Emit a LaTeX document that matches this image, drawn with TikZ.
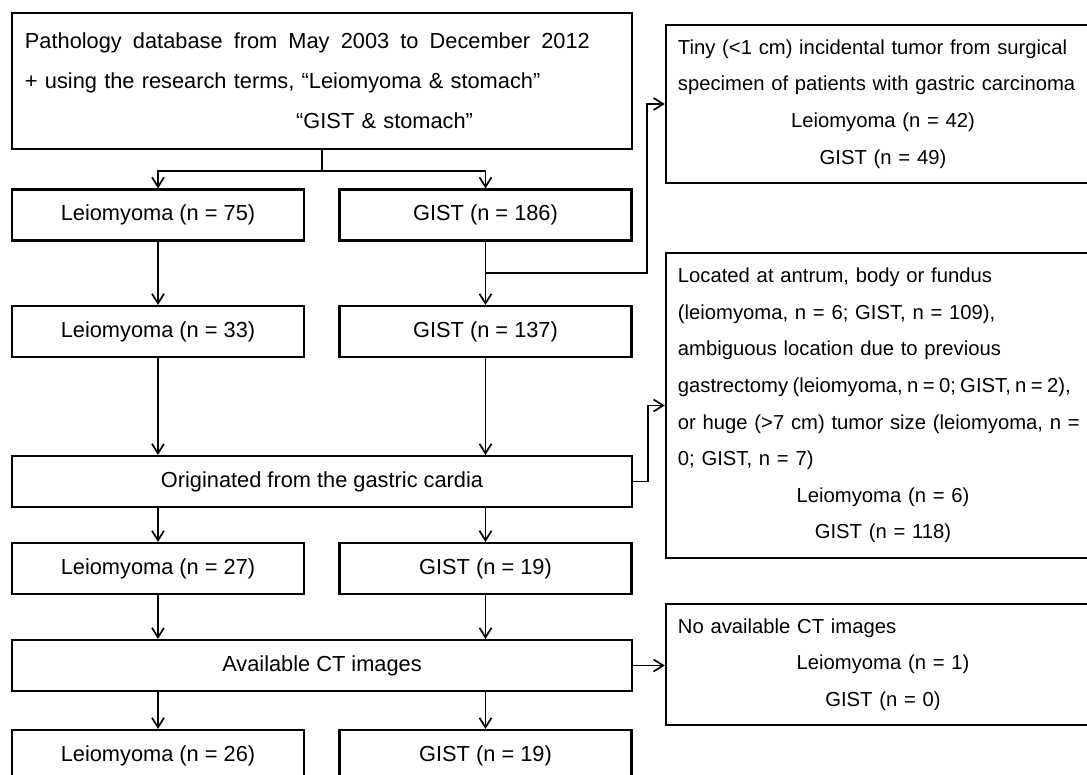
\documentclass[tikz,border=0pt]{standalone}
\usepackage{fontspec}
\setmainfont{Liberation Sans}
\usepackage{tikz}
\usetikzlibrary{arrows.meta,positioning}
\tikzset{
	flownode/.style={rectangle, draw=black, line width=1.6pt, minimum width=7.3cm, minimum height=1.27cm, inner sep=0pt, font=\fontsize{15.5}{19}\selectfont},
	widenode/.style={flownode, minimum width=15.5cm},
	sidenode/.style={rectangle, draw=black, line width=1.6pt, minimum width=10.85cm, text width=10.25cm, inner xsep=0.3cm, align=left, font=\fontsize{14.4}{26}\selectfont},
	flowarrow/.style={-{Straight Barb[length=0.24cm,width=0.3cm]}, line width=1.2pt},
	flowline/.style={line width=1.2pt}
}
\setlength{\parskip}{0pt}

\begin{document}
\begin{tikzpicture}[x=0.025cm, y=-0.025cm]
	\useasboundingbox (0,0) rectangle (1087,775);
	\clip (0,0) rectangle (1087,775);
	\fill[white] (0,0) rectangle (1087,775);

	\node[rectangle, draw=black, line width=1.6pt, minimum width=15.5cm, minimum height=3.4cm, text width=14.85cm, inner xsep=0.325cm, align=left, font=\fontsize{15.5}{28.5}\selectfont] (search) at (322,81)
		{\makebox[14.12cm][l]{Pathology\hfill database\hfill from\hfill May\hfill 2003\hfill to\hfill December\hfill 2012}\\
		+ using the research terms, “Leiomyoma \& stomach”\\
		\hspace*{6.78cm}“GIST \& stomach”};

	\node[flownode] (leioA) at (158,215) {Leiomyoma (n = 75)};
	\node[flownode] (gistA) at (485.5,215) {GIST (n = 186)};
	\node[flownode] (leioB) at (158,331.5) {Leiomyoma (n = 33)};
	\node[flownode] (gistB) at (485.5,331.5) {GIST (n = 137)};
	\node[widenode] (cardia) at (322,481.5) {Originated from the gastric cardia};
	\node[flownode] (leioC) at (158,568.5) {Leiomyoma (n = 27)};
	\node[flownode] (gistC) at (485.5,568.5) {GIST (n = 19)};
	\node[widenode] (ctimg) at (322,665.5) {Available CT images};
	\node[flownode] (leioD) at (158,755.5) {Leiomyoma (n = 26)};
	\node[flownode] (gistD) at (485.5,755.5) {GIST (n = 19)};

	\node[sidenode, minimum height=3.95cm] (tiny) at (883,104)
		{\mbox{Tiny (<1 cm) incidental tumor from surgical}\\
		\mbox{specimen of patients with gastric carcinoma}\par
		\centering Leiomyoma (n = 42)\\ GIST (n = 49)\par};
	\node[sidenode, minimum height=7.625cm] (located) at (883,405.5)
		{\mbox{Located at antrum, body or fundus}\\
		\mbox{(leiomyoma, n = 6; GIST, n = 109),}\\
		\mbox{ambiguous location due to previous}\\
		\mbox{\spaceskip=3.1pt gastrectomy (leiomyoma, n = 0; GIST, n = 2),}\\
		\mbox{or huge (>7 cm) tumor size (leiomyoma, n =}\\
		\mbox{0; GIST, n = 7)}\par
		\centering Leiomyoma (n = 6)\\ GIST (n = 118)\par};
	\node[sidenode, minimum height=3.025cm] (noct) at (883,664.5)
		{No available CT images\par
		\centering Leiomyoma (n = 1)\\ GIST (n = 0)\par};

	\coordinate (splitA) at (322,171);
	\coordinate (splitB) at (485.5,273);
	\coordinate (bendA) at (647,273);
	\coordinate (bendB) at (648,481.5);

	\draw[flowline] (search) -- (splitA);
	\draw[flowarrow] (splitA) -| (leioA);
	\draw[flowarrow] (splitA) -| (gistA);
	\draw[flowarrow] (leioA) -- (leioB);
	\draw[flowarrow] (gistA) -- (gistB);
	\draw[flowarrow] (splitB) -- (bendA) |- (tiny);
	\draw[flowarrow] (leioB.south) -- (leioB.south |- cardia.north);
	\draw[flowarrow] (gistB.south) -- (gistB.south |- cardia.north);
	\draw[flowarrow] (cardia.east) -- (bendB) |- (located);
	\draw[flowarrow] (leioC.north |- cardia.south) -- (leioC.north);
	\draw[flowarrow] (gistC.north |- cardia.south) -- (gistC.north);
	\draw[flowarrow] (leioC) -- (leioC.south |- ctimg.north);
	\draw[flowarrow] (gistC) -- (gistC.south |- ctimg.north);
	\draw[flowarrow] (ctimg.east) -- (ctimg.east -| noct.west);
	\draw[flowarrow] (leioD.north |- ctimg.south) -- (leioD.north);
	\draw[flowarrow] (gistD.north |- ctimg.south) -- (gistD.north);
\end{tikzpicture}
\end{document}
